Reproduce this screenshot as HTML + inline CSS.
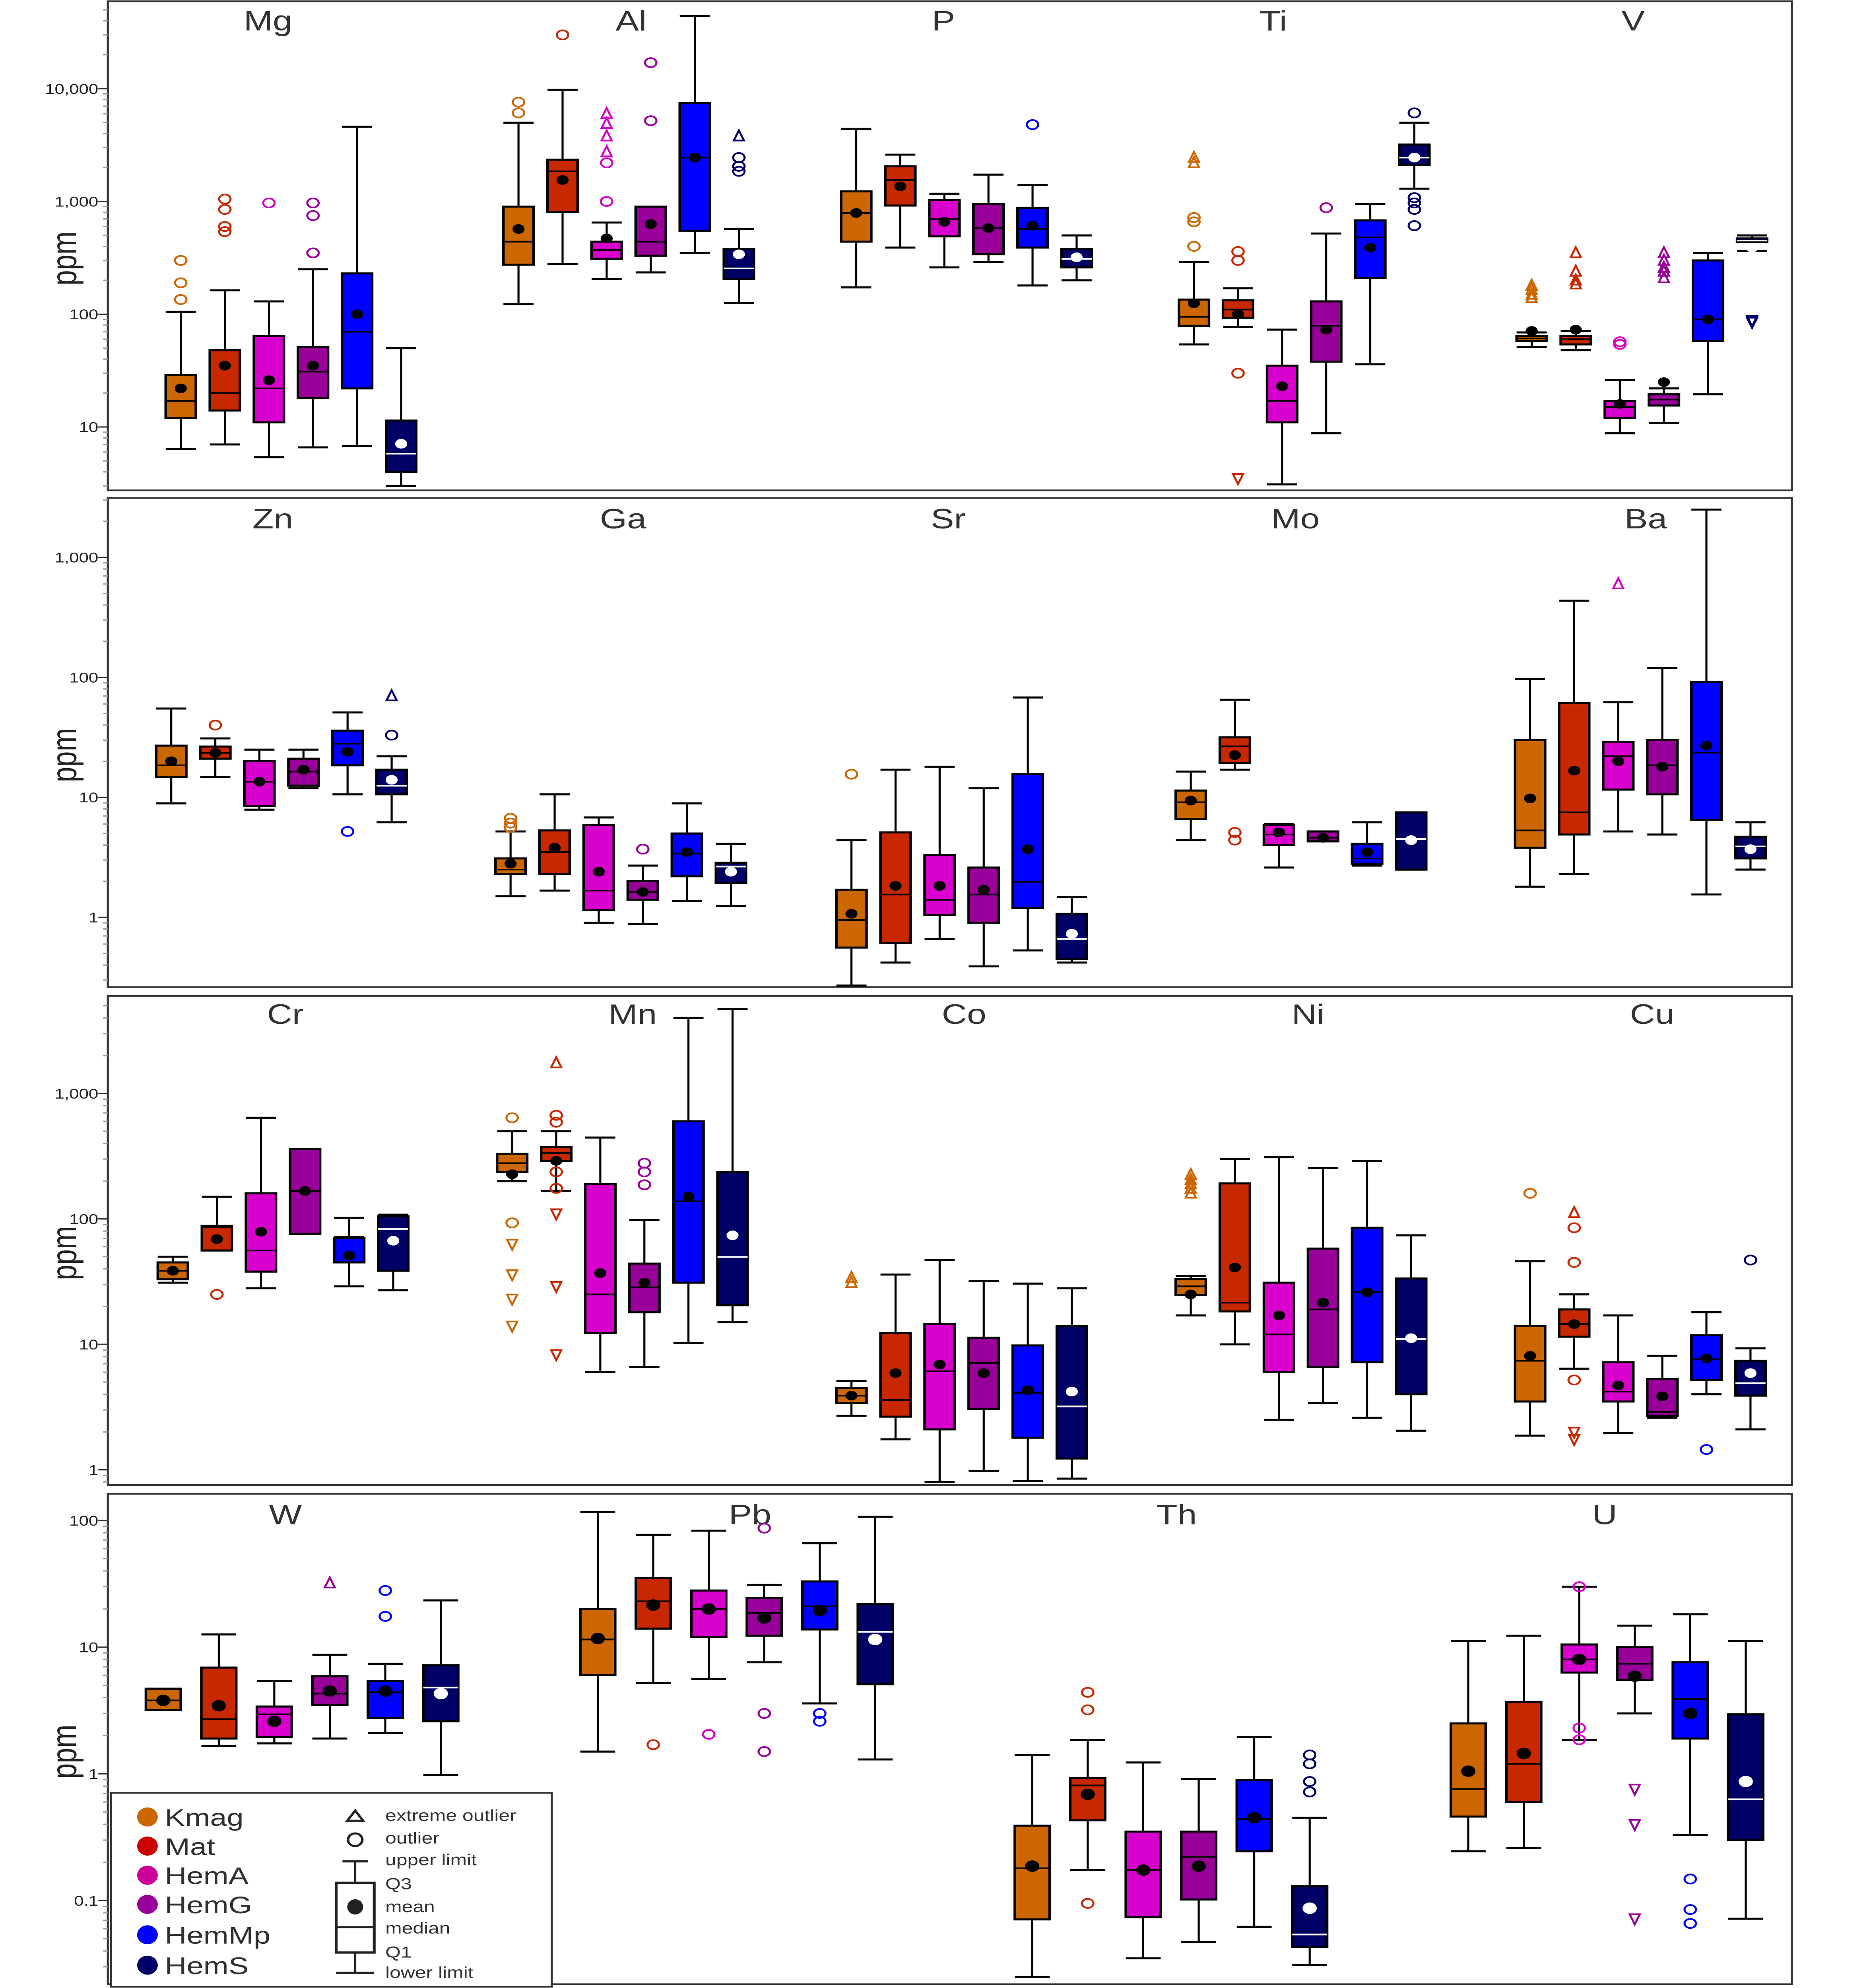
<!DOCTYPE html>
<html><head><meta charset="utf-8">
<style>
html,body{margin:0;padding:0;background:#fff;overflow:hidden;width:100vw;height:100vh;}
svg{display:block;font-family:"Liberation Sans",sans-serif;width:100vw;height:100vh;}
</style></head>
<body>
<svg id="chart" viewBox="0 0 1180 1569" preserveAspectRatio="none" xmlns="http://www.w3.org/2000/svg"></svg>
<script>
// Groups & colours
const groups = ["Kmag","Mat","HemA","HemG","HemMp","HemS"];
const groupColors = ["#cc6600","#c82800","#d800cc","#990099","#0000ff","#000066"];
const legendColors = ["#cc6600","#cc0000","#cc0099","#990099","#0000ff","#000066"];

// Stats rows per group: [lower, Q1, median, Q3, upper, mean]
const Mg = [[6.4,12,17,29,105,22],[7,14,20,48,163,35],[5.4,11,22,64,130,26],[6.6,18,31,51,250,35],[6.8,22,70,230,4600,100],[3.0,4.0,5.8,11.4,50,7.1]];
const MgOut = [[0,300,"o"],[0,190,"o"],[0,135,"o"],[1,1050,"o"],[1,850,"o"],[1,600,"o"],[1,540,"o"],[2,970,"o"],[3,970,"o"],[3,750,"o"],[3,350,"o"]];
const Al = [[123,275,440,900,5000,570],[280,810,1850,2350,9800,1550],[205,310,370,440,650,470],[235,330,440,900,720,630],[350,550,2450,7500,44000,2450],[126,205,255,380,570,340]];
const AlOut = [[0,7600,"o"],[0,6100,"o"],[1,30000,"o"],[2,6000,"t"],[2,4900,"t"],[2,3800,"t"],[2,2750,"t"],[2,2200,"o"],[2,1000,"o"],[3,17000,"o"],[3,5200,"o"],[5,3800,"t"],[5,2450,"o"],[5,2050,"o"],[5,1850,"o"]];
const P = [[173,440,790,1230,4400,790],[390,920,1550,2050,2600,1360],[260,490,700,1030,1170,660],[290,340,580,950,1730,580],[180,390,570,880,1400,610],[200,260,310,380,500,320]];
const POut = [[4,4800,"o"]];
const Ti = [[54,79,95,135,290,125],[77,93,110,133,170,100],[3.1,11,17,35,73,23],[8.8,38,79,130,520,73],[36,210,480,680,950,390],[1300,2100,2450,3200,5000,2450]];
const TiOut = [[0,2450,"t"],[0,2200,"t"],[0,720,"o"],[0,660,"o"],[0,400,"o"],[1,360,"o"],[1,300,"o"],[1,30,"o"],[1,3.5,"d"],[3,880,"o"],[5,6100,"o"],[5,1080,"o"],[5,970,"o"],[5,850,"o"],[5,610,"o"]];
const V = [[51,58,61,64,69,71],[48,54,60,64,71,73],[8.8,12,15,17,26,16],[10.8,15.5,17.5,19.5,22,25],[19.5,58,90,300,350,90],[365,435,450,470,500,390]];
const VOut = [[0,180,"t"],[0,165,"t"],[0,150,"t"],[0,140,"t"],[1,350,"t"],[1,240,"t"],[1,200,"t"],[1,185,"t"],[2,57,"o"],[2,54,"o"],[3,350,"t"],[3,300,"t"],[3,260,"t"],[3,240,"t"],[3,210,"t"],[5,88,"d"],[5,85,"d"]];

const Zn = [[8.9,14.8,18.5,27,55,20],[14.8,21,23.5,26.5,31,23.5],[7.9,8.5,13.5,20,25,13.5],[11.9,12.5,16.4,21,25,17],[10.6,18.5,28,36,51,24],[6.2,10.6,12.5,17,22,14]];
const ZnOut = [[1,40,"o"],[4,5.2,"o"],[5,70,"t"],[5,33,"o"]];
const Ga = [[1.5,2.3,2.5,3.1,5.2,2.8],[1.67,2.3,3.5,5.3,10.6,3.8],[0.9,1.15,1.67,5.9,6.8,2.4],[0.88,1.4,1.63,2.0,2.7,1.63],[1.37,2.2,3.4,5.0,8.9,3.5],[1.24,1.93,2.65,2.85,4.1,2.4]];
const GaOut = [[0,6.7,"o"],[0,6.1,"o"],[0,5.6,"o"],[3,3.7,"o"]];
const Sr = [[0.27,0.56,0.95,1.7,4.4,1.07],[0.42,0.61,1.55,5.1,17,1.83],[0.66,1.05,1.4,3.3,18,1.83],[0.39,0.9,1.55,2.6,11.9,1.7],[0.53,1.2,1.98,15.6,68,3.7],[0.42,0.45,0.66,1.07,1.48,0.73]];
const SrOut = [[0,15.6,"o"]];
const Mo = [[4.4,6.6,9.1,11.4,16.4,9.4],[17,19.4,26.6,31.6,65,22.5],[2.6,4.0,4.9,5.9,6.0,5.1],[4.3,4.3,4.6,5.2,5.2,4.6],[2.7,2.8,3.1,4.1,6.2,3.5],[2.5,2.5,4.5,7.5,7.5,4.4]];
const MoOut = [[1,5.1,"o"],[1,4.4,"o"]];
const Ba = [[1.8,3.8,5.3,30,97,9.8],[2.3,4.9,7.5,61,435,16.7],[5.2,11.6,22,29,62,20],[4.9,10.6,18.5,30,120,18],[1.55,6.5,23.6,92,2500,27],[2.5,3.1,3.9,4.7,6.2,3.7]];
const BaOut = [[2,600,"t"]];

const Cr = [[31,33,38.6,45,50,38.6],[56,56,86,88,150,69],[28,38,56,160,640,79],[76,76,167,360,360,167],[29,45,72,70,102,51],[27,38.6,83,105,108,67]];
const CrOut = [[1,25,"o"]];
const Mn = [[200,237,278,330,500,227],[167,290,335,375,500,290],[6.0,12.3,25,190,445,37],[6.6,18,28.5,44,98,31],[10.2,31,138,600,4000,150],[15,20.5,49.7,237,4700,74]];
const MnOut = [[0,640,"o"],[0,93,"o"],[0,63,"d"],[0,36,"d"],[0,23,"d"],[0,14,"d"],[1,1750,"t"],[1,670,"o"],[1,590,"o"],[1,237,"o"],[1,175,"o"],[1,110,"d"],[1,29,"d"],[1,8.3,"d"],[3,278,"o"],[3,237,"o"],[3,187,"o"]];
const Co = [[2.7,3.4,3.9,4.5,5.1,3.9],[1.75,2.65,3.6,12.3,36,5.9],[0.8,2.1,6.1,14.5,47,6.9],[0.98,3.05,7.1,11.3,32,5.9],[0.81,1.8,4.1,9.8,30.5,4.3],[0.85,1.23,3.2,14,28,4.2]];
const CoOut = [[0,34,"t"],[0,31,"t"]];
const Ni = [[17,24.8,29,33,35,25],[10,18.3,21.5,192,300,41],[2.5,6.0,12,31,310,17],[3.4,6.6,19,58,255,21.5],[2.6,7.2,26,85,290,26],[2.05,4.0,11,33.5,74,11.2]];
const NiOut = [[0,225,"t"],[0,205,"t"],[0,190,"t"],[0,175,"t"],[0,160,"t"]];
const Cu = [[1.87,3.5,7.4,14,46,8.1],[6.4,11.5,14.5,19,25,14.5],[1.96,3.5,4.2,7.2,17,4.7],[2.6,2.7,2.9,5.3,8.1,3.85],[4.0,5.2,7.6,11.8,18,7.7],[2.1,3.9,4.9,7.4,9.3,5.9]];
const CuOut = [[0,160,"o"],[1,112,"t"],[1,85,"o"],[1,45,"o"],[1,5.2,"o"],[1,2.0,"d"],[1,1.75,"d"],[4,1.45,"o"],[5,47,"o"]];

const W = [[3.2,3.2,3.8,4.7,4.7,3.8],[1.66,1.9,2.7,6.9,12.6,3.45],[1.74,1.95,2.95,3.4,5.4,2.6],[1.9,3.5,4.3,5.9,8.7,4.5],[2.1,2.75,4.4,5.4,7.4,4.5],[0.98,2.6,4.8,7.2,23.4,4.3]];
const WOut = [[2,0.62,"o"],[3,32,"t"],[4,28,"o"],[4,17.5,"o"]];
const Pb = [[1.5,6.0,11.5,20,117,11.7],[5.2,14,23,35,77,21.5],[5.6,12,20,28,83,20],[7.6,12.3,18.6,24.5,31,17],[3.6,13.8,21,33,66,19.5],[1.3,5.1,13.2,22,107,11.5]];
const PbOut = [[1,1.7,"o"],[3,87,"o"],[3,3.0,"o"],[3,1.5,"o"],[4,3.0,"o"],[4,2.6,"o"],[2,2.05,"o"]];
const Th = [[0.025,0.071,0.18,0.39,1.41,0.187],[0.174,0.43,0.81,0.93,1.86,0.69],[0.035,0.074,0.174,0.35,1.23,0.174],[0.047,0.102,0.22,0.35,0.91,0.187],[0.062,0.245,0.44,0.89,1.95,0.45],[0.031,0.043,0.054,0.13,0.45,0.087]];
const ThOut = [[1,4.4,"o"],[1,3.2,"o"],[1,0.095,"o"],[5,1.41,"o"],[5,1.2,"o"],[5,0.87,"o"],[5,0.72,"o"]];
const U = [[0.245,0.46,0.76,2.5,11.2,1.05],[0.26,0.6,1.2,3.7,12.3,1.45],[1.86,6.3,8,10.5,30,8],[3.0,5.5,7.4,10,14.8,5.9],[0.33,1.9,3.9,7.6,18.2,3.0],[0.072,0.3,0.63,2.95,11.2,0.87]];
const UOut = [[2,30,"o"],[2,2.3,"o"],[2,1.86,"o"],[3,0.76,"d"],[3,0.4,"d"],[3,0.072,"d"],[4,0.148,"o"],[4,0.085,"o"],[4,0.066,"o"]];

// Tick labels per panel
const ticks1 = [10,100,1000,10000];
const ticks2 = [1,10,100,1000];
const ticks3 = [1,10,100,1000];
const ticks4 = [0.1,1,10,100];
const tickText = {0.1:"0.1",1:"1",10:"10",100:"100",1000:"1,000",10000:"10,000"};

// Layout (not data)
const panels = [
 {top:1,bot:387,ref:10,refY:337,ppd:89,bw:19,sp:27.8,ticks:ticks1,minV:1,maxV:100000,
  els:[["Mg",Mg,MgOut,114,169],["Al",Al,AlOut,327,398],["P",P,POut,540,595],["Ti",Ti,TiOut,753,803],["V",V,VOut,966,1030]],titleY:24},
 {top:393,bot:779,ref:1,refY:724,ppd:94.7,bw:19,sp:27.8,ticks:ticks2,minV:0.1,maxV:10000,
  els:[["Zn",Zn,ZnOut,108,172],["Ga",Ga,GaOut,322,393],["Sr",Sr,SrOut,537,598],["Mo",Mo,MoOut,751,817],["Ba",Ba,BaOut,965,1038]],titleY:417},
 {top:786,bot:1172,ref:1,refY:1160,ppd:99,bw:19,sp:27.8,ticks:ticks3,minV:0.1,maxV:10000,
  els:[["Cr",Cr,CrOut,109,180],["Mn",Mn,MnOut,323,399],["Co",Co,CoOut,537,608],["Ni",Ni,NiOut,751,825],["Cu",Cu,CuOut,965,1042]],titleY:808},
 {top:1179,bot:1566,ref:1,refY:1400,ppd:100,bw:22,sp:35,ticks:ticks4,minV:0.01,maxV:1000,
  els:[["W",W,WOut,103,180],["Pb",Pb,PbOut,377,473],["Th",Th,ThOut,651,742],["U",U,UOut,926,1012]],titleY:1203}
];

const NS="http://www.w3.org/2000/svg";
const svg=document.getElementById("chart");
function mk(tag,attrs,parent){const e=document.createElementNS(NS,tag);for(const k in attrs)e.setAttribute(k,attrs[k]);(parent||svg).appendChild(e);return e;}

panels.forEach((p,pi)=>{
  const yScale=v=>p.refY-(Math.log10(v)-Math.log10(p.ref))*p.ppd;
  const g=mk("g",{});
  
  
  const frame=mk("rect",{x:68,y:p.top,width:1062,height:p.bot-p.top,fill:"none",stroke:"#333","stroke-width":1.3},g);
  
  
  for(let d=Math.floor(Math.log10(p.minV));d<Math.log10(p.maxV);d++){
    for(let m=1;m<10;m++){
      const v=m*Math.pow(10,d);const y=yScale(v);
      if(y<p.top+1||y>p.bot-1)continue;
      const t=mk("line",{x1:m===1?62:65,x2:68,y1:y,y2:y,stroke:m===1?"#333":"#999","stroke-width":1},g);
      
      
    }
  }
  p.ticks.forEach(v=>{
    const t=mk("text",{x:62,y:yScale(v)+4,"text-anchor":"end","font-size":11,fill:"#222"},g);
    t.textContent=tickText[v];
    
    
  });
  const yl=mk("text",{x:0,y:0,"font-size":22,fill:"#222","text-anchor":"middle",transform:`translate(48,${(p.top+p.bot)/2+10}) rotate(-90)`},g);
  yl.textContent="ppm";
  
  
  p.els.forEach(([name,stats,outs,x0,tx])=>{
    const eg=mk("g",{},g);
    
    
    const tt=mk("text",{x:tx,y:p.titleY,"text-anchor":"middle","font-size":22,fill:"#333"},eg);
    tt.textContent=name;
    
    
    stats.forEach((s,gi)=>{
      const cx=x0+gi*p.sp, hw=p.bw/2, col=groupColors[gi];
      const inner=gi===5?"#fff":"#000";
      const bg=mk("g",{},eg);
      
      
      const [lo,q1,med,q3,hi,mean]=s;
      mk("line",{x1:cx,x2:cx,y1:yScale(lo),y2:yScale(hi),stroke:"#000","stroke-width":1.3},bg);
      mk("line",{x1:cx-hw,x2:cx+hw,y1:yScale(lo),y2:yScale(lo),stroke:"#000","stroke-width":1.6},bg);
      mk("line",{x1:cx-hw,x2:cx+hw,y1:yScale(hi),y2:yScale(hi),stroke:"#000","stroke-width":1.6},bg);
      const yq3=yScale(q3),yq1=yScale(q1);
      mk("rect",{x:cx-hw,y:Math.min(yq1,yq3),width:p.bw,height:Math.max(1.5,Math.abs(yq1-yq3)),fill:col,stroke:"#000","stroke-width":1.6},bg);
      mk("line",{x1:cx-hw,x2:cx+hw,y1:yScale(med),y2:yScale(med),stroke:inner,"stroke-width":1.3},bg);
      mk("circle",{cx:cx,cy:yScale(mean),r:pi===3?4.5:3.8,fill:inner},bg);
    });
    outs.forEach(([gi,v,type])=>{
      const cx=x0+gi*p.sp, y=yScale(v), col=groupColors[gi];
      let o;
      if(type==="o") o=mk("circle",{cx:cx,cy:y,r:3.6,fill:"none",stroke:col,"stroke-width":1.3},eg);
      else if(type==="t") o=mk("polygon",{points:`${cx},${y-4.5} ${cx-3.2},${y+3.5} ${cx+3.2},${y+3.5}`,fill:"none",stroke:col,"stroke-width":1.3},eg);
      else o=mk("polygon",{points:`${cx},${y+4.5} ${cx-3.2},${y-3.5} ${cx+3.2},${y-3.5}`,fill:"none",stroke:col,"stroke-width":1.3},eg);
      
      
    });
  });
});

// Legend
const lg=mk("g",{});


mk("rect",{x:70,y:1415,width:278,height:153,fill:"#fff",stroke:"#333","stroke-width":1.3},lg);
const legY=[1434,1457,1480,1503,1527,1551];
groups.forEach((gname,i)=>{
  const e=mk("g",{},lg);
  
  
  mk("ellipse",{cx:93,cy:legY[i],rx:6.5,ry:7.5,fill:legendColors[i]},e);
  const t=mk("text",{x:104,y:legY[i]+7,"font-size":19,fill:"#332e2e"},e);
  t.textContent=gname;
});
mk("polygon",{points:"224,1429 219,1437 229,1437",fill:"none",stroke:"#222","stroke-width":1.6},lg);
mk("ellipse",{cx:224,cy:1452,rx:4.5,ry:5,fill:"none",stroke:"#222","stroke-width":1.6},lg);
mk("line",{x1:216,x2:232,y1:1469,y2:1469,stroke:"#222","stroke-width":1.8},lg);
mk("line",{x1:224,x2:224,y1:1469,y2:1486,stroke:"#222","stroke-width":1.4},lg);
mk("rect",{x:212,y:1486,width:24,height:55,fill:"#fff",stroke:"#222","stroke-width":1.8},lg);
mk("line",{x1:212,x2:236,y1:1521,y2:1521,stroke:"#222","stroke-width":1.6},lg);
mk("ellipse",{cx:224,cy:1505,rx:5,ry:6,fill:"#222"},lg);
mk("line",{x1:224,x2:224,y1:1541,y2:1557,stroke:"#222","stroke-width":1.4},lg);
mk("line",{x1:212,x2:236,y1:1557,y2:1557,stroke:"#222","stroke-width":1.8},lg);
[["extreme outlier",1437],["outlier",1455],["upper limit",1472],["Q3",1491],["mean",1509],["median",1526],["Q1",1545],["lower limit",1561]].forEach(([s,y])=>{
  const t=mk("text",{x:243,y:y,"font-size":12.5,fill:"#332e2e"},lg);
  t.textContent=s;
});
</script>
</body></html>
